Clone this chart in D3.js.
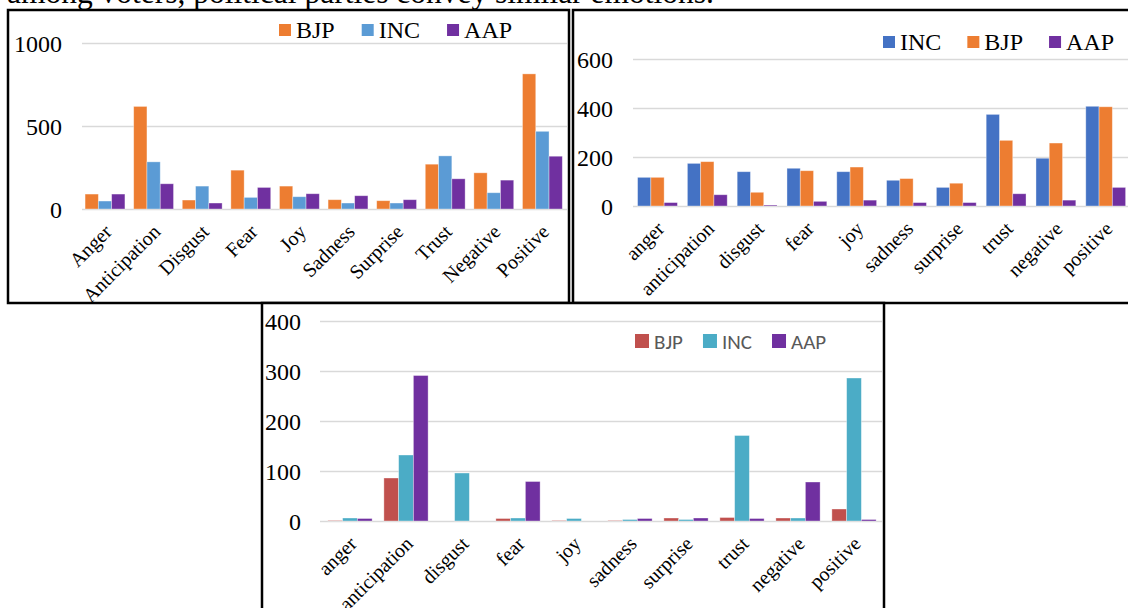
<!DOCTYPE html>
<html>
<head>
<meta charset="utf-8">
<script src="https://cdn.jsdelivr.net/npm/d3@7"></script>
<style>
  body { margin: 0; background: #fff; }
  svg { display: block; }
</style>
</head>
<body>
<div id="chart"></div>
<script>
// categories
const catsTitle = ['Anger', 'Anticipation', 'Disgust', 'Fear', 'Joy', 'Sadness', 'Surprise', 'Trust', 'Negative', 'Positive']
const catsLower = ['anger', 'anticipation', 'disgust', 'fear', 'joy', 'sadness', 'surprise', 'trust', 'negative', 'positive']

// panel 1 (top left)
const bjp1 = [90, 618, 54, 234, 138, 56, 50, 270, 218, 814]
const inc1 = [48, 284, 138, 70, 74, 36, 36, 320, 98, 468]
const aap1 = [90, 152, 36, 130, 92, 80, 56, 182, 174, 318]
const ticks1 = [0, 500, 1000]

// panel 2 (top right)
const inc2 = [117, 174, 140, 154, 140, 105, 76, 374, 195, 407]
const bjp2 = [117, 181, 56, 144, 159, 112, 93, 268, 257, 405]
const aap2 = [14, 46, 4, 19, 24, 14, 14, 50, 24, 76]
const ticks2 = [0, 200, 400, 600]

// panel 3 (bottom)
const bjp3 = [1, 86, 0, 5, 1, 1, 6, 7, 6, 24]
const inc3 = [6, 132, 96, 6, 5, 3, 3, 171, 6, 286]
const aap3 = [5, 291, 0, 79, 0, 5, 6, 5, 78, 3]
const ticks3 = [0, 100, 200, 300, 400]

const serif = '"Liberation Serif", "Times New Roman", serif'

const svg = d3.select('#chart')
    .append('svg')
    .attr('width', 1128)
    .attr('height', 608)

// cut-off line of body text above the figure
svg.append('text')
    .attr('x', 7)
    .attr('y', 3)
    .attr('font-family', serif)
    .attr('font-size', 31.5)
    .attr('fill', '#000')
    .text('among voters, political parties convey similar emotions.')

const drawPanel = (p) => {
    const g = svg.append('g')

    g.append('rect')
        .attr('x', p.box[0]).attr('y', p.box[1])
        .attr('width', p.box[2]).attr('height', p.box[3])
        .attr('fill', '#fff')
        .attr('stroke', '#000')
        .attr('stroke-width', 2.5)

    const x0 = d3.scaleBand()
        .domain(p.cats)
        .range(p.xr)
        .paddingInner(p.pad)
        .paddingOuter(p.pad / 2)
    const x1 = d3.scaleBand()
        .domain(p.series.map(s => s.name))
        .range([0, x0.bandwidth()])
    const y = d3.scaleLinear().domain(p.yd).range(p.yr)

    // gridlines + value labels
    const yAxis = g.append('g')
        .attr('transform', `translate(${p.gx[0]},0)`)
        .call(d3.axisLeft(y)
            .tickValues(p.ticks)
            .tickSize(-(p.gx[1] - p.gx[0]))
            .tickPadding(p.labelPad)
            .tickFormat(d3.format('d')))
    yAxis.select('.domain').remove()
    yAxis.selectAll('line')
        .attr('stroke', '#d9d9d9')
        .attr('stroke-width', 1.6)
    yAxis.selectAll('text')
        .attr('font-family', serif)
        .attr('font-size', 24)
        .attr('fill', '#000')
        .attr('dy', '0.35em')

    // bars
    p.series.forEach(s => {
        g.append('g')
            .selectAll('rect')
            .data(s.values.map((v, i) => ({ cat: p.cats[i], v: v })))
            .join('rect')
            .attr('x', d => x0(d.cat) + x1(s.name))
            .attr('y', d => y(d.v))
            .attr('width', x1.bandwidth())
            .attr('height', d => y(0) - y(d.v))
            .attr('fill', s.color)
            .attr('stroke', '#fff')
            .attr('stroke-opacity', 0.45)
            .attr('stroke-width', 0.8)
    })

    // category labels
    const xAxis = g.append('g')
        .attr('transform', `translate(0,${y(0)})`)
        .call(d3.axisBottom(x0).tickSize(0))
    xAxis.select('.domain').remove()
    xAxis.selectAll('text')
        .attr('y', null)
        .attr('dy', null)
        .attr('text-anchor', 'end')
        .attr('transform', 'translate(8,24) rotate(-45)')
        .attr('font-family', serif)
        .attr('font-size', 20)
        .attr('fill', '#000')

    // legend
    const leg = g.append('g')
    let lx = p.leg.x
    p.series.forEach(s => {
        leg.append('rect')
            .attr('x', lx)
            .attr('y', p.leg.y - p.leg.sq / 2)
            .attr('width', p.leg.sq)
            .attr('height', p.leg.sq)
            .attr('fill', s.color)
        const t = leg.append('text')
            .attr('x', lx + p.leg.sq + 5)
            .attr('y', p.leg.y)
            .attr('dy', p.leg.dy)
            .attr('font-family', p.leg.font)
            .attr('font-size', p.leg.size)
            .attr('fill', p.leg.color)
            .text(s.name)
        lx += p.leg.sq + 5 + t.node().getComputedTextLength() + p.leg.gap
    })
}

drawPanel({
    box: [8, 10, 561, 293],
    cats: catsTitle,
    series: [
        { name: 'BJP', values: bjp1, color: '#ed7d31' },
        { name: 'INC', values: inc1, color: '#5b9bd5' },
        { name: 'AAP', values: aap1, color: '#7030a0' },
    ],
    xr: [80.7, 566.7], pad: 0.18,
    yd: [0, 1000], yr: [209, 43], ticks: ticks1,
    gx: [82, 567], labelPad: 20,
    leg: { x: 279, y: 30, sq: 12, dy: '0.33em', gap: 27, font: serif, size: 24, color: '#000' },
})

drawPanel({
    box: [573, 10, 600, 293],
    cats: catsLower,
    series: [
        { name: 'INC', values: inc2, color: '#4472c4' },
        { name: 'BJP', values: bjp2, color: '#ed7d31' },
        { name: 'AAP', values: aap2, color: '#7030a0' },
    ],
    xr: [632.6, 1130.6], pad: 0.2,
    yd: [0, 600], yr: [206, 59], ticks: ticks2,
    gx: [633, 1140], labelPad: 20,
    leg: { x: 883, y: 42, sq: 12, dy: '0.33em', gap: 26, font: serif, size: 24, color: '#000' },
})

drawPanel({
    box: [262, 303, 622, 400],
    cats: catsLower,
    series: [
        { name: 'BJP', values: bjp3, color: '#c0504d' },
        { name: 'INC', values: inc3, color: '#4bacc6' },
        { name: 'AAP', values: aap3, color: '#7030a0' },
    ],
    xr: [322, 882], pad: 0.21,
    yd: [0, 400], yr: [521, 321], ticks: ticks3,
    gx: [320, 882], labelPad: 19,
    leg: { x: 635, y: 341, sq: 14, dy: '0.36em', gap: 20, font: 'Carlito, Lato, "Open Sans", sans-serif', size: 21, color: '#595959' },
})
</script>
</body>
</html>
